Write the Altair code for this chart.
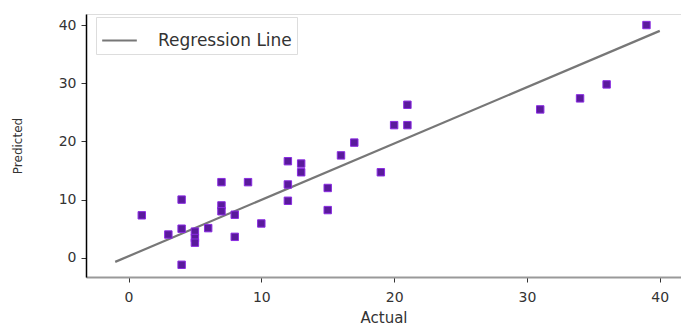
import altair as alt
import pandas as pd

actual = [1, 3, 4, 4, 4, 5, 5, 5, 6, 7, 7, 7, 8, 8, 9, 10, 12, 12, 12, 13, 13,
          15, 15, 16, 17, 19, 20, 21, 21, 31, 34, 36, 39]
predicted = [7.3, 4.0, 10.0, 5.0, -1.2, 4.5, 3.4, 2.6, 5.1, 13.0, 9.0, 8.0, 7.4, 3.6,
             13.0, 5.9, 16.6, 12.6, 9.8, 16.2, 14.7, 12.0, 8.2, 17.6, 19.8, 14.7,
             22.8, 22.8, 26.3, 25.5, 27.4, 29.8, 40.0]
line_x = [-1, 40]
line_y = [-0.7, 39.0]

pts = pd.DataFrame({"Actual": actual, "Predicted": predicted})
ln = pd.DataFrame({"Actual": line_x, "Predicted": line_y, "series": ["Regression Line"] * 2})

xs = alt.Scale(domain=[-3.2, 41.6], nice=False, zero=False)
ys = alt.Scale(domain=[-3.3, 41.9], nice=False, zero=False)

xaxis = alt.Axis(values=[0, 10, 20, 30, 40], title="Actual", grid=False,
                 domainColor="#999999", domainWidth=2, tickColor="#333", tickSize=5,
                 labelFontSize=14, labelColor="#333", titleFontSize=15,
                 titleFontWeight="normal", titleColor="#333", titlePadding=6, labelPadding=8)
yaxis = alt.Axis(values=[0, 10, 20, 30, 40], title="Predicted", grid=False,
                 domainColor="#000000", domainWidth=1.5, tickColor="#333", tickSize=5,
                 labelFontSize=14, labelColor="#333", titleFontSize=12,
                 titleFontWeight="normal", titleColor="#333", titlePadding=34, labelPadding=5)

line = alt.Chart(ln).mark_line(strokeWidth=2.2).encode(
    x=alt.X("Actual:Q", scale=xs, axis=xaxis),
    y=alt.Y("Predicted:Q", scale=ys, axis=yaxis),
    color=alt.Color("series:N", scale=alt.Scale(domain=["Regression Line"], range=["#777777"]),
                    legend=alt.Legend(title=None, orient="none", legendX=10, legendY=3,
                                      symbolType="stroke", symbolSize=1200, symbolStrokeWidth=2,
                                      labelFontSize=17, labelColor="#333", labelLimit=400,
                                      strokeColor="#dddddd", padding=5, labelOffset=20)),
)

points = alt.Chart(pts).mark_square(size=55, color="#5a1a9c", stroke="#8a2be2",
                                    strokeWidth=1, opacity=1).encode(
    x=alt.X("Actual:Q", scale=xs),
    y=alt.Y("Predicted:Q", scale=ys),
)

chart = alt.layer(line, points).properties(
    width=595, height=263,
    padding={"left": 86, "top": 14, "right": 0, "bottom": 50},
    autosize=alt.AutoSizeParams(type="none"),
).configure_view(stroke="#999999", strokeWidth=2).configure(font="DejaVu Sans")

chart.save("out.html", embed_options={"renderer": "svg", "actions": False})
